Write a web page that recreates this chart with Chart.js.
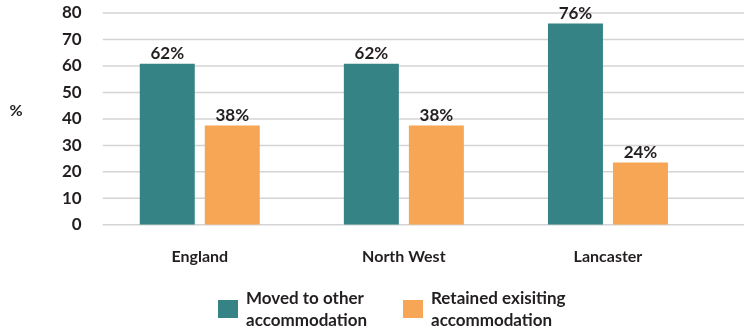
<!DOCTYPE html>
<html>
<head>
<meta charset="utf-8">
<script src="https://cdn.jsdelivr.net/npm/chart.js@4"></script>
<style>
body{margin:0;background:#fff;font-family:Lato,"Open Sans",sans-serif}
#wrap{position:relative;width:744px;height:331px}
.leg{position:absolute;top:287px;display:flex;align-items:center;color:#231f20;font-weight:bold;font-size:17px;line-height:22px}
.leg span.box{display:inline-block;width:20px;height:18px;margin-right:8px}
</style>
</head>
<body>
<div id="wrap">
  <canvas id="chart" width="744" height="331"></canvas>
  <div class="leg" id="leg0" style="left:218px"></div>
  <div class="leg" id="leg1" style="left:403px"></div>
</div>
<script>
/*----- data -----*/
const categories = ['England', 'North West', 'Lancaster']
const seriesNames = [['Moved to other', 'accommodation'], ['Retained exisiting', 'accommodation']]
const movedValues = [60.8, 60.8, 76]
const retainedValues = [37.5, 37.5, 23.5]
const movedLabels = ['62%', '62%', '76%']
const retainedLabels = ['38%', '38%', '24%']
const yTicks = [0, 10, 20, 30, 40, 50, 60, 70, 80]

/*----- style -----*/
const teal = '#358384'
const orange = '#f6a654'
const textColor = '#231f20'
const font = 'Lato, "Open Sans", sans-serif'

/*----- plugin: grid lines, value labels, % title -----*/
const extras = {
  id: 'extras',
  beforeDatasetsDraw(chart) {
    const {ctx, chartArea, scales: {y}} = chart
    ctx.save()
    ctx.strokeStyle = '#d4d4d4'
    ctx.lineWidth = 1.5
    yTicks.forEach(v => {
      const py = y.getPixelForValue(v)
      ctx.beginPath()
      ctx.moveTo(chartArea.left + 5, py)
      ctx.lineTo(chart.width, py)
      ctx.stroke()
    })
    ctx.restore()
  },
  afterDatasetsDraw(chart) {
    const {ctx} = chart
    const labelSets = [movedLabels, retainedLabels]
    ctx.save()
    ctx.fillStyle = textColor
    ctx.font = 'bold 17px ' + font
    ctx.textAlign = 'center'
    ctx.textBaseline = 'bottom'
    chart.data.datasets.forEach((ds, i) => {
      chart.getDatasetMeta(i).data.forEach((bar, j) => {
        ctx.fillText(labelSets[i][j], bar.x, bar.y - 2)
      })
    })
    ctx.font = 'bold 16px ' + font
    ctx.textBaseline = 'middle'
    ctx.fillText('%', 16, 111)
    ctx.restore()
  }
}

new Chart(document.getElementById('chart'), {
  type: 'bar',
  data: {
    labels: categories,
    datasets: [
      {label: seriesNames[0].join(' '), data: movedValues, backgroundColor: teal},
      {label: seriesNames[1].join(' '), data: retainedValues, backgroundColor: orange}
    ]
  },
  options: {
    responsive: false,
    animation: false,
    layout: {padding: {left: 54, right: 34, top: 0, bottom: 51}},
    categoryPercentage: 0.637,
    barPercentage: 0.846,
    plugins: {legend: {display: false}, tooltip: {enabled: false}},
    scales: {
      x: {
        grid: {display: false},
        border: {display: false},
        ticks: {color: textColor, font: {family: font, size: 16, weight: 'bold'}, padding: 14}
      },
      y: {
        min: 0,
        max: 80,
        grid: {display: false},
        border: {display: false},
        afterFit(s) { s.paddingTop = 13; s.paddingBottom = 0 },
        ticks: {stepSize: 10, autoSkip: false, color: textColor, font: {family: font, size: 17, weight: 'bold'}, padding: 8}
      }
    }
  },
  plugins: [extras]
})

/*----- html legend -----*/
;[teal, orange].forEach((c, i) => {
  const el = document.getElementById('leg' + i)
  el.innerHTML = '<span class="box" style="background:' + c + '"></span><span>' + seriesNames[i].join('<br>') + '</span>'
})
</script>
</body>
</html>
